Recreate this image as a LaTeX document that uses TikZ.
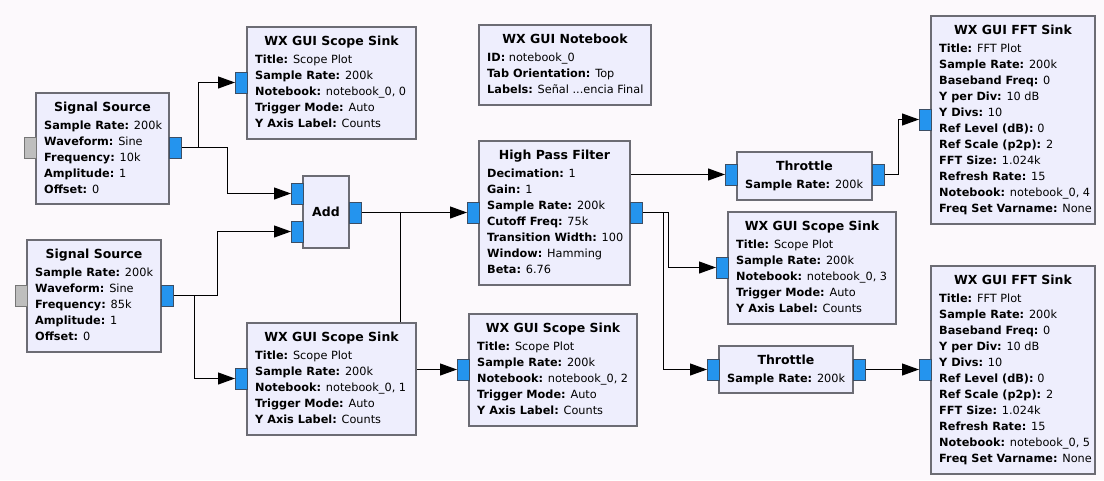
\documentclass[tikz,border=0pt]{standalone}
\usepackage{fontspec}
\setmainfont{DejaVu Sans}
\usetikzlibrary{arrows.meta,calc}
\pgfdeclarelayer{wires}
\pgfsetlayers{wires,main}

\definecolor{canvas}{RGB}{252,249,252}
\definecolor{blockfill}{RGB}{238,238,253}
\definecolor{blockline}{RGB}{108,108,116}
\definecolor{portblue}{RGB}{36,148,238}
\definecolor{portline}{RGB}{60,78,100}
\definecolor{portgray}{RGB}{190,190,190}
\definecolor{portgrayline}{RGB}{118,118,118}

\tikzset{
  blockbox/.style={draw=blockline, fill=blockfill, line width=1.2pt, inner sep=0pt, outer sep=0pt, anchor=north west},
  port/.style={draw=portline, fill=portblue, line width=0.9pt, minimum width=12pt, minimum height=21pt, inner sep=0pt, outer sep=0pt, anchor=north west},
  msgport/.style={port, fill=portgray, draw=portgrayline},
  titletext/.style={font=\bfseries\fontsize{12.5}{14}\selectfont, inner sep=0pt, anchor=base},
  params/.style={font=\fontsize{11.3}{16}\selectfont, align=left, inner sep=0pt, anchor=north west},
  wire/.style={draw=black, line width=1pt, -{Triangle[length=17pt,width=12pt]}},
}

% key/value line of a block
\newcommand\kv[2]{\textbf{#1:} #2}
% block: name, left, top, width, height, title, parameter lines
\newcommand\blk[7]{%
  \node[blockbox, minimum width=#4pt, minimum height=#5pt] (#1) at (#2,#3) {};
  \node[titletext] (#1-t) at ([yshift=-18.5pt]#1.north) {#6};
  \node[params] (#1-p) at ([xshift=8pt,yshift=-28pt]#1.north west) {\rule{0pt}{8pt}#7};
}

\begin{document}
\begin{tikzpicture}[x=1pt,y=-1pt]
\useasboundingbox (0,0) rectangle (1104,480);
\begin{pgfonlayer}{wires}
  \fill[canvas] (0,0) rectangle (1104,480);
\end{pgfonlayer}

% sources
\blk{src1}{36}{93}{133}{111}{Signal Source}{\kv{Sample Rate}{200k}\\\kv{Waveform}{Sine}\\\kv{Frequency}{10k}\\\kv{Amplitude}{1}\\\kv{Offset}{0}}
\node[msgport] (src1m) at (24,137) {};
\node[port] (src1o) at (169,137) {};

\blk{src2}{27}{240}{134}{112}{Signal Source}{\kv{Sample Rate}{200k}\\\kv{Waveform}{Sine}\\\kv{Frequency}{85k}\\\kv{Amplitude}{1}\\\kv{Offset}{0}}
\node[msgport] (src2m) at (15,285) {};
\node[port] (src2o) at (161,285) {};

% scope sinks
\blk{sc1}{247}{27}{169}{112}{WX GUI Scope Sink}{\kv{Title}{Scope Plot}\\\kv{Sample Rate}{200k}\\\kv{Notebook}{notebook\_0, 0}\\\kv{Trigger Mode}{Auto}\\\kv{Y Axis Label}{Counts}}
\node[port] (sc1i) at (235,72) {};

\blk{sc2}{247}{323}{169}{112}{WX GUI Scope Sink}{\kv{Title}{Scope Plot}\\\kv{Sample Rate}{200k}\\\kv{Notebook}{notebook\_0, 1}\\\kv{Trigger Mode}{Auto}\\\kv{Y Axis Label}{Counts}}
\node[port] (sc2i) at (235,368) {};

\blk{sc4}{469}{314}{168}{112}{WX GUI Scope Sink}{\kv{Title}{Scope Plot}\\\kv{Sample Rate}{200k}\\\kv{Notebook}{notebook\_0, 2}\\\kv{Trigger Mode}{Auto}\\\kv{Y Axis Label}{Counts}}
\node[port] (sc4i) at (457,359) {};

\blk{sc3}{728}{212}{168}{112}{WX GUI Scope Sink}{\kv{Title}{Scope Plot}\\\kv{Sample Rate}{200k}\\\kv{Notebook}{notebook\_0, 3}\\\kv{Trigger Mode}{Auto}\\\kv{Y Axis Label}{Counts}}
\node[port] (sc3i) at (716,257) {};

% notebook
\blk{nb}{479}{25}{172}{80}{WX GUI Notebook}{\kv{ID}{notebook\_0}\\\kv{Tab Orientation}{Top}\\\kv{Labels}{Señal ...encia Final}}

% adder
\node[blockbox, minimum width=46pt, minimum height=72pt] (add) at (303,176) {};
\node[titletext] (add-t) at ([yshift=-4.5pt]add.center) {Add};
\node[port] (addi1) at (291,183) {};
\node[port] (addi2) at (291,221) {};
\node[port] (addo) at (349,202) {};

% filter
\blk{hpf}{479}{141}{151}{144}{High Pass Filter}{\kv{Decimation}{1}\\\kv{Gain}{1}\\\kv{Sample Rate}{200k}\\\kv{Cutoff Freq}{75k}\\\kv{Transition Width}{100}\\\kv{Window}{Hamming}\\\kv{Beta}{6.76}}
\node[port] (hpfi) at (467,202) {};
\node[port] (hpfo) at (630,202) {};

% throttles
\blk{thr1}{737}{152}{135}{48}{Throttle}{\kv{Sample Rate}{200k}}
\node[port] (thr1i) at (725,164) {};
\node[port] (thr1o) at (872,164) {};

\blk{thr2}{719}{346}{134}{47}{Throttle}{\kv{Sample Rate}{200k}}
\node[port] (thr2i) at (707,359) {};
\node[port] (thr2o) at (853,359) {};

% FFT sinks
\blk{fft1}{931}{16}{164}{208}{WX GUI FFT Sink}{\kv{Title}{FFT Plot}\\\kv{Sample Rate}{200k}\\\kv{Baseband Freq}{0}\\\kv{Y per Div}{10 dB}\\\kv{Y Divs}{10}\\\kv{Ref Level (dB)}{0}\\\kv{Ref Scale (p2p)}{2}\\\kv{FFT Size}{1.024k}\\\kv{Refresh Rate}{15}\\\kv{Notebook}{notebook\_0, 4}\\\kv{Freq Set Varname}{None}}
\node[port] (fft1i) at (919,109) {};

\blk{fft2}{931}{266}{164}{208}{WX GUI FFT Sink}{\kv{Title}{FFT Plot}\\\kv{Sample Rate}{200k}\\\kv{Baseband Freq}{0}\\\kv{Y per Div}{10 dB}\\\kv{Y Divs}{10}\\\kv{Ref Level (dB)}{0}\\\kv{Ref Scale (p2p)}{2}\\\kv{FFT Size}{1.024k}\\\kv{Refresh Rate}{15}\\\kv{Notebook}{notebook\_0, 5}\\\kv{Freq Set Varname}{None}}
\node[port] (fft2i) at (919,359) {};

% connections, drawn beneath the blocks
\begin{pgfonlayer}{wires}
  \draw[wire] (src1o.east) -- ++(17,0) |- (sc1i.west);
  \draw[wire] (src1o.east) -- ++(46,0) |- (addi1.west);
  \draw[wire] (src2o.east) -- ++(44,0) |- (addi2.west);
  \draw[wire] (src2o.east) -- ++(21,0) |- (sc2i.west);
  \draw[wire] (addo.east) -- (hpfi.west);
  \draw[wire] (addo.east) -- ++(39,0) |- (sc4i.west);
  \draw[wire] (hpfo.west) -- ++(-8,0) |- (thr1i.west);
  \draw[wire] (hpfo.east) -- ++(26,0) |- (sc3i.west);
  \draw[wire] (hpfo.east) -- ++(21,0) |- (thr2i.west);
  \draw[wire] (thr1o.east) -- ++(14,0) |- (fft1i.west);
  \draw[wire] (thr2o.east) -- (fft2i.west);
\end{pgfonlayer}
\end{tikzpicture}
\end{document}
